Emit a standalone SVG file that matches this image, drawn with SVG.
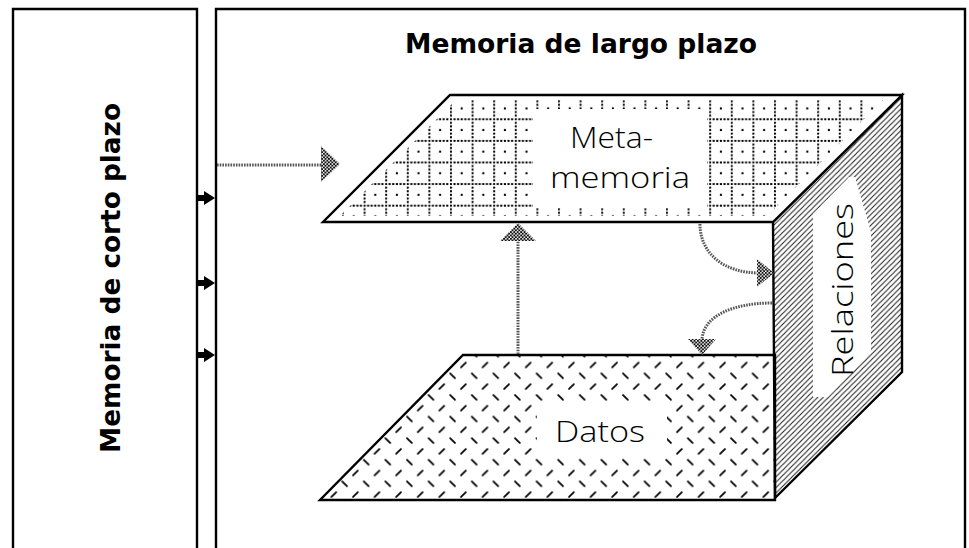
<svg xmlns="http://www.w3.org/2000/svg" width="969" height="548" viewBox="0 0 969 548">
<style>
.box{fill:none;stroke:#000;stroke-width:2.4}
.edge{stroke:#000;stroke-width:2.4;stroke-linejoin:miter}
.bold{font-family:"DejaVu Sans","Liberation Sans",sans-serif;font-weight:bold;font-size:26px;fill:#000}
.lbl{font-family:"Open Sans","DejaVu Sans",sans-serif;font-weight:300;font-size:30px;fill:#000}
.wave{fill:none;stroke:#555;stroke-width:3;stroke-dasharray:1.6 1.1}
.head{fill:url(#chk);stroke:none}
.blk{fill:#000}
</style>
<defs>
<pattern id="grid" patternUnits="userSpaceOnUse" x="450" y="96.7" width="21.6" height="21.6">
<g fill="#000">
<circle cx="0.9" cy="0.9" r="1.15"/><circle cx="4.5" cy="0.9" r="1.15"/><circle cx="8.1" cy="0.9" r="1.15"/><circle cx="11.7" cy="0.9" r="1.15"/><circle cx="15.3" cy="0.9" r="1.15"/><circle cx="18.9" cy="0.9" r="1.15"/>
<circle cx="0.9" cy="4.5" r="1.15"/><circle cx="0.9" cy="8.1" r="1.15"/><circle cx="0.9" cy="11.7" r="1.15"/><circle cx="0.9" cy="15.3" r="1.15"/><circle cx="0.9" cy="18.9" r="1.15"/>
<circle cx="11.7" cy="11.7" r="1.15"/>
</g>
</pattern>
<pattern id="dash" patternUnits="userSpaceOnUse" x="479.6" y="359.6" width="21.6" height="21.6">
<g stroke="#000" stroke-width="1.8" stroke-linecap="round">
<line x1="3" y1="7.8" x2="7.8" y2="3"/>
<line x1="13.8" y1="13.8" x2="18.6" y2="18.6"/>
</g>
</pattern>
<pattern id="hatch" patternUnits="userSpaceOnUse" x="0" y="0" width="5.4" height="5.4">
<path d="M-1,6.4 L6.4,-1 M-1,1 L1,-1 M4.4,6.4 L6.4,4.4" stroke="#222" stroke-width="1.1"/>
</pattern>
<pattern id="chk" patternUnits="userSpaceOnUse" x="0" y="0" width="3.4" height="3.4">
<rect width="3.4" height="3.4" fill="#fff"/>
<circle cx="0.85" cy="0.85" r="1.15" fill="#111"/><circle cx="2.55" cy="2.55" r="1.15" fill="#111"/>
</pattern>
</defs>
<rect width="969" height="548" fill="#fff"/>

<g id="corto-plazo">
<path class="box" d="M13,549 V9 H197 V549"/>
<text class="bold" transform="translate(120,278) rotate(-90)" text-anchor="middle" textLength="350" lengthAdjust="spacingAndGlyphs">Memoria de corto plazo</text>
</g>

<g id="largo-plazo">
<path class="box" d="M216,549 V9 H965 V549"/>
<text class="bold" x="581" y="53" text-anchor="middle" textLength="352" lengthAdjust="spacingAndGlyphs">Memoria de largo plazo</text>
</g>

<g id="relaciones">
<polygon points="773,222 902,95 902,372 775,498" fill="url(#hatch)"/>
<polygon points="813,214 849,177 855,177 871,232 871,352 828,397 813,397" fill="#fff"/>
<polygon class="edge" points="773,222 902,95 902,372 775,498" fill="none"/>
<text class="lbl" transform="translate(853,290) rotate(-90)" text-anchor="middle" textLength="174" lengthAdjust="spacingAndGlyphs">Relaciones</text>
</g>

<g id="metamemoria">
<polygon points="450,95 902,95 773,222 323,222" fill="#fff"/>
<polygon points="456,100 883,100 767,216 340,216" fill="url(#grid)"/>
<rect x="533" y="109" width="174" height="99" fill="#fff"/>
<polygon class="edge" points="450,95 902,95 773,222 323,222" fill="none"/>
<text class="lbl" x="611.5" y="148" text-anchor="middle" textLength="83" lengthAdjust="spacingAndGlyphs">Meta-</text>
<text class="lbl" x="620" y="188" text-anchor="middle" textLength="140" lengthAdjust="spacingAndGlyphs">memoria</text>
</g>

<g id="datos">
<polygon points="463,355 775,355 775,500 320,500" fill="url(#dash)"/>
<rect x="537" y="403" width="130" height="54" fill="#fff"/>
<polygon class="edge" points="463,355 775,355 775,500 320,500" fill="none"/>
<text class="lbl" x="600" y="442" text-anchor="middle" textLength="90" lengthAdjust="spacingAndGlyphs">Datos</text>
</g>

<g id="connectors">
<path class="wave" d="M217,165 H324"/>
<polygon class="head" points="321,146 340,164 321,182"/>
<path class="wave" d="M518,354 V238"/>
<polygon class="head" points="500,241 518,223 536,241"/>
<path class="wave" d="M700,224 C700,252 722,273 760,273"/>
<polygon class="head" points="757,259 774,273 757,287"/>
<path class="wave" d="M772,303 C735,303 703,315 702,340"/>
<polygon class="head" points="688,339 702,355 716,339"/>
<polygon class="blk" points="198,195 204,195 204,191 215,198 204,205 204,201 198,201"/>
<polygon class="blk" points="198,280 204,280 204,276 215,283 204,290 204,286 198,286"/>
<polygon class="blk" points="198,352 204,352 204,348 215,355 204,362 204,358 198,358"/>
</g>
</svg>
